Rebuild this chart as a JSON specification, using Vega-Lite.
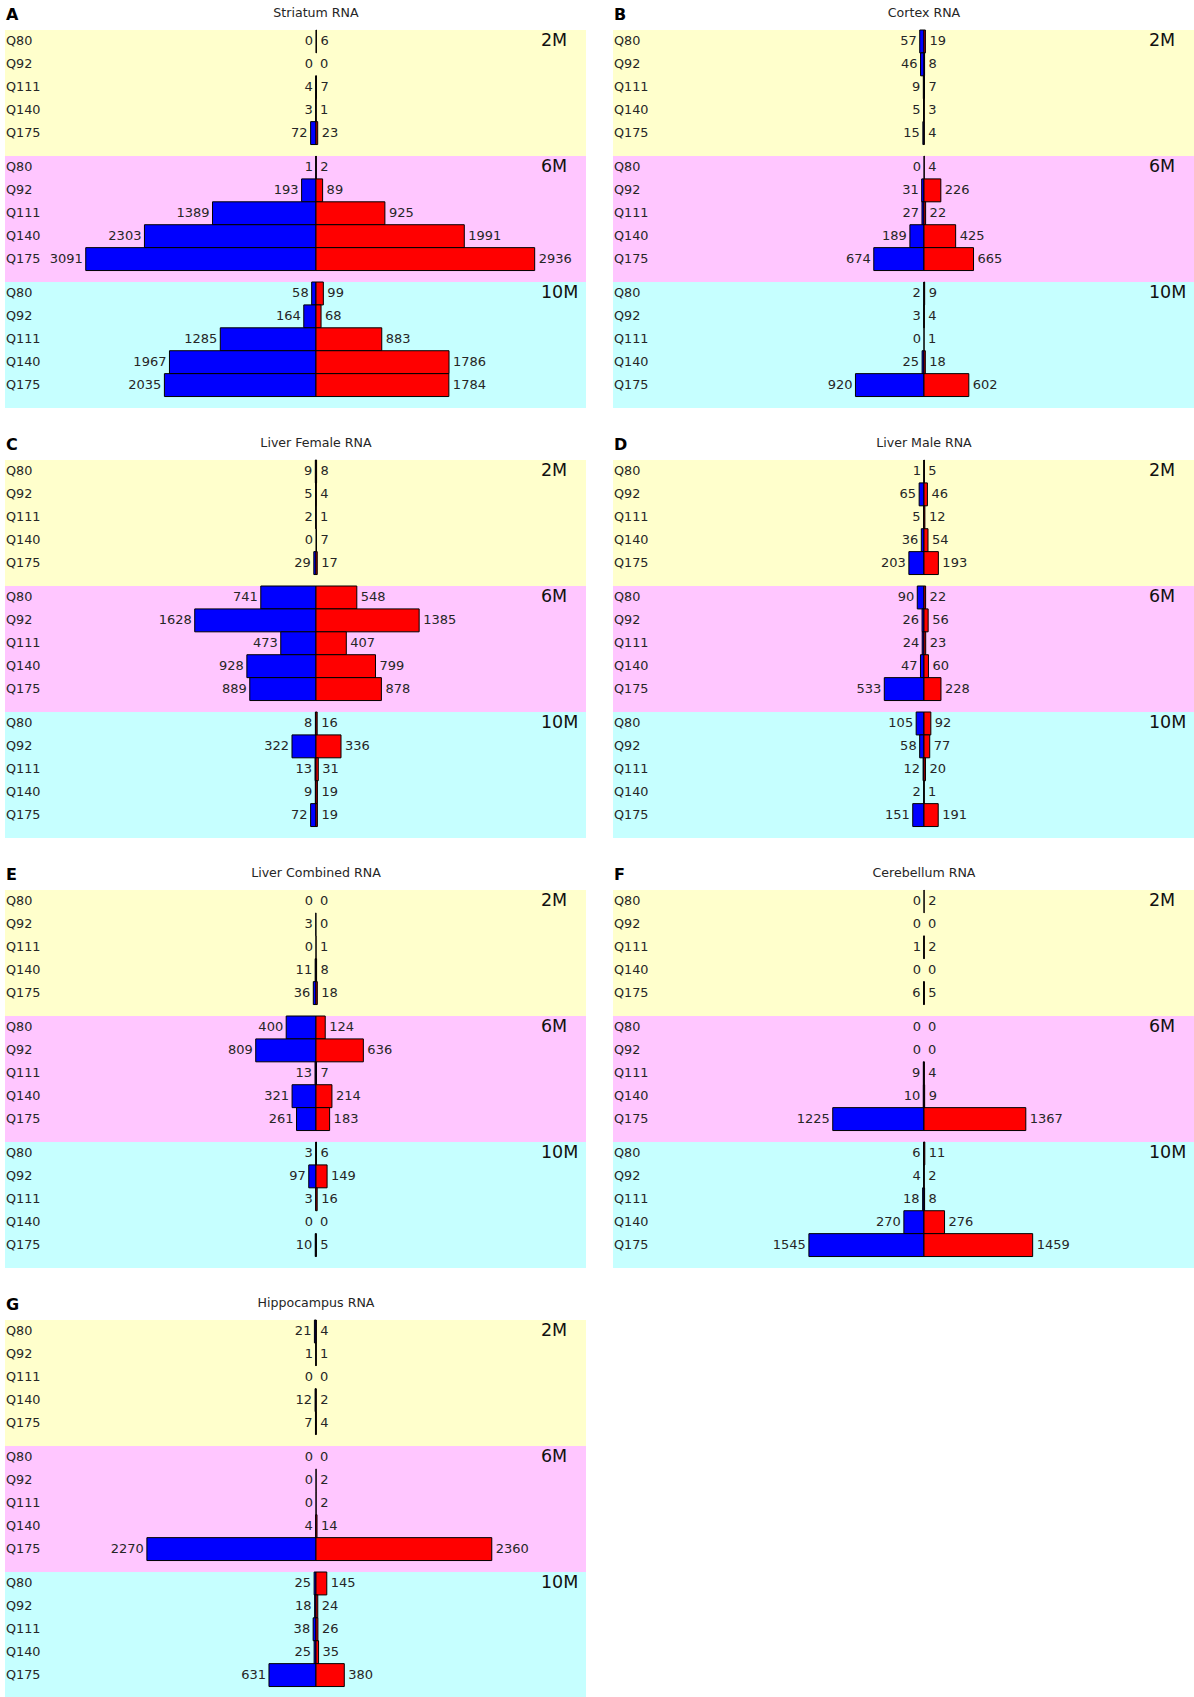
{
  "$schema": "https://vega.github.io/schema/vega-lite/v6.json",
  "padding": {"top": 6, "left": 5, "right": 0, "bottom": 0},
  "bounds": "flush",
  "spacing": {"row": 52, "column": 27},
  "columns": 2,
  "config": {"view": {"stroke": null}, "font": "DejaVu Sans", "text": {"font": "DejaVu Sans", "color": "#262626"}},
  "datasets": {"rows": [
    {"panel":"A","title":"Striatum RNA","age":"2M","q":"Q80","down":0,"up":6},
    {"panel":"A","title":"Striatum RNA","age":"2M","q":"Q92","down":0,"up":0},
    {"panel":"A","title":"Striatum RNA","age":"2M","q":"Q111","down":4,"up":7},
    {"panel":"A","title":"Striatum RNA","age":"2M","q":"Q140","down":3,"up":1},
    {"panel":"A","title":"Striatum RNA","age":"2M","q":"Q175","down":72,"up":23},
    {"panel":"A","title":"Striatum RNA","age":"6M","q":"Q80","down":1,"up":2},
    {"panel":"A","title":"Striatum RNA","age":"6M","q":"Q92","down":193,"up":89},
    {"panel":"A","title":"Striatum RNA","age":"6M","q":"Q111","down":1389,"up":925},
    {"panel":"A","title":"Striatum RNA","age":"6M","q":"Q140","down":2303,"up":1991},
    {"panel":"A","title":"Striatum RNA","age":"6M","q":"Q175","down":3091,"up":2936},
    {"panel":"A","title":"Striatum RNA","age":"10M","q":"Q80","down":58,"up":99},
    {"panel":"A","title":"Striatum RNA","age":"10M","q":"Q92","down":164,"up":68},
    {"panel":"A","title":"Striatum RNA","age":"10M","q":"Q111","down":1285,"up":883},
    {"panel":"A","title":"Striatum RNA","age":"10M","q":"Q140","down":1967,"up":1786},
    {"panel":"A","title":"Striatum RNA","age":"10M","q":"Q175","down":2035,"up":1784},
    {"panel":"B","title":"Cortex RNA","age":"2M","q":"Q80","down":57,"up":19},
    {"panel":"B","title":"Cortex RNA","age":"2M","q":"Q92","down":46,"up":8},
    {"panel":"B","title":"Cortex RNA","age":"2M","q":"Q111","down":9,"up":7},
    {"panel":"B","title":"Cortex RNA","age":"2M","q":"Q140","down":5,"up":3},
    {"panel":"B","title":"Cortex RNA","age":"2M","q":"Q175","down":15,"up":4},
    {"panel":"B","title":"Cortex RNA","age":"6M","q":"Q80","down":0,"up":4},
    {"panel":"B","title":"Cortex RNA","age":"6M","q":"Q92","down":31,"up":226},
    {"panel":"B","title":"Cortex RNA","age":"6M","q":"Q111","down":27,"up":22},
    {"panel":"B","title":"Cortex RNA","age":"6M","q":"Q140","down":189,"up":425},
    {"panel":"B","title":"Cortex RNA","age":"6M","q":"Q175","down":674,"up":665},
    {"panel":"B","title":"Cortex RNA","age":"10M","q":"Q80","down":2,"up":9},
    {"panel":"B","title":"Cortex RNA","age":"10M","q":"Q92","down":3,"up":4},
    {"panel":"B","title":"Cortex RNA","age":"10M","q":"Q111","down":0,"up":1},
    {"panel":"B","title":"Cortex RNA","age":"10M","q":"Q140","down":25,"up":18},
    {"panel":"B","title":"Cortex RNA","age":"10M","q":"Q175","down":920,"up":602},
    {"panel":"C","title":"Liver Female RNA","age":"2M","q":"Q80","down":9,"up":8},
    {"panel":"C","title":"Liver Female RNA","age":"2M","q":"Q92","down":5,"up":4},
    {"panel":"C","title":"Liver Female RNA","age":"2M","q":"Q111","down":2,"up":1},
    {"panel":"C","title":"Liver Female RNA","age":"2M","q":"Q140","down":0,"up":7},
    {"panel":"C","title":"Liver Female RNA","age":"2M","q":"Q175","down":29,"up":17},
    {"panel":"C","title":"Liver Female RNA","age":"6M","q":"Q80","down":741,"up":548},
    {"panel":"C","title":"Liver Female RNA","age":"6M","q":"Q92","down":1628,"up":1385},
    {"panel":"C","title":"Liver Female RNA","age":"6M","q":"Q111","down":473,"up":407},
    {"panel":"C","title":"Liver Female RNA","age":"6M","q":"Q140","down":928,"up":799},
    {"panel":"C","title":"Liver Female RNA","age":"6M","q":"Q175","down":889,"up":878},
    {"panel":"C","title":"Liver Female RNA","age":"10M","q":"Q80","down":8,"up":16},
    {"panel":"C","title":"Liver Female RNA","age":"10M","q":"Q92","down":322,"up":336},
    {"panel":"C","title":"Liver Female RNA","age":"10M","q":"Q111","down":13,"up":31},
    {"panel":"C","title":"Liver Female RNA","age":"10M","q":"Q140","down":9,"up":19},
    {"panel":"C","title":"Liver Female RNA","age":"10M","q":"Q175","down":72,"up":19},
    {"panel":"D","title":"Liver Male RNA","age":"2M","q":"Q80","down":1,"up":5},
    {"panel":"D","title":"Liver Male RNA","age":"2M","q":"Q92","down":65,"up":46},
    {"panel":"D","title":"Liver Male RNA","age":"2M","q":"Q111","down":5,"up":12},
    {"panel":"D","title":"Liver Male RNA","age":"2M","q":"Q140","down":36,"up":54},
    {"panel":"D","title":"Liver Male RNA","age":"2M","q":"Q175","down":203,"up":193},
    {"panel":"D","title":"Liver Male RNA","age":"6M","q":"Q80","down":90,"up":22},
    {"panel":"D","title":"Liver Male RNA","age":"6M","q":"Q92","down":26,"up":56},
    {"panel":"D","title":"Liver Male RNA","age":"6M","q":"Q111","down":24,"up":23},
    {"panel":"D","title":"Liver Male RNA","age":"6M","q":"Q140","down":47,"up":60},
    {"panel":"D","title":"Liver Male RNA","age":"6M","q":"Q175","down":533,"up":228},
    {"panel":"D","title":"Liver Male RNA","age":"10M","q":"Q80","down":105,"up":92},
    {"panel":"D","title":"Liver Male RNA","age":"10M","q":"Q92","down":58,"up":77},
    {"panel":"D","title":"Liver Male RNA","age":"10M","q":"Q111","down":12,"up":20},
    {"panel":"D","title":"Liver Male RNA","age":"10M","q":"Q140","down":2,"up":1},
    {"panel":"D","title":"Liver Male RNA","age":"10M","q":"Q175","down":151,"up":191},
    {"panel":"E","title":"Liver Combined RNA","age":"2M","q":"Q80","down":0,"up":0},
    {"panel":"E","title":"Liver Combined RNA","age":"2M","q":"Q92","down":3,"up":0},
    {"panel":"E","title":"Liver Combined RNA","age":"2M","q":"Q111","down":0,"up":1},
    {"panel":"E","title":"Liver Combined RNA","age":"2M","q":"Q140","down":11,"up":8},
    {"panel":"E","title":"Liver Combined RNA","age":"2M","q":"Q175","down":36,"up":18},
    {"panel":"E","title":"Liver Combined RNA","age":"6M","q":"Q80","down":400,"up":124},
    {"panel":"E","title":"Liver Combined RNA","age":"6M","q":"Q92","down":809,"up":636},
    {"panel":"E","title":"Liver Combined RNA","age":"6M","q":"Q111","down":13,"up":7},
    {"panel":"E","title":"Liver Combined RNA","age":"6M","q":"Q140","down":321,"up":214},
    {"panel":"E","title":"Liver Combined RNA","age":"6M","q":"Q175","down":261,"up":183},
    {"panel":"E","title":"Liver Combined RNA","age":"10M","q":"Q80","down":3,"up":6},
    {"panel":"E","title":"Liver Combined RNA","age":"10M","q":"Q92","down":97,"up":149},
    {"panel":"E","title":"Liver Combined RNA","age":"10M","q":"Q111","down":3,"up":16},
    {"panel":"E","title":"Liver Combined RNA","age":"10M","q":"Q140","down":0,"up":0},
    {"panel":"E","title":"Liver Combined RNA","age":"10M","q":"Q175","down":10,"up":5},
    {"panel":"F","title":"Cerebellum RNA","age":"2M","q":"Q80","down":0,"up":2},
    {"panel":"F","title":"Cerebellum RNA","age":"2M","q":"Q92","down":0,"up":0},
    {"panel":"F","title":"Cerebellum RNA","age":"2M","q":"Q111","down":1,"up":2},
    {"panel":"F","title":"Cerebellum RNA","age":"2M","q":"Q140","down":0,"up":0},
    {"panel":"F","title":"Cerebellum RNA","age":"2M","q":"Q175","down":6,"up":5},
    {"panel":"F","title":"Cerebellum RNA","age":"6M","q":"Q80","down":0,"up":0},
    {"panel":"F","title":"Cerebellum RNA","age":"6M","q":"Q92","down":0,"up":0},
    {"panel":"F","title":"Cerebellum RNA","age":"6M","q":"Q111","down":9,"up":4},
    {"panel":"F","title":"Cerebellum RNA","age":"6M","q":"Q140","down":10,"up":9},
    {"panel":"F","title":"Cerebellum RNA","age":"6M","q":"Q175","down":1225,"up":1367},
    {"panel":"F","title":"Cerebellum RNA","age":"10M","q":"Q80","down":6,"up":11},
    {"panel":"F","title":"Cerebellum RNA","age":"10M","q":"Q92","down":4,"up":2},
    {"panel":"F","title":"Cerebellum RNA","age":"10M","q":"Q111","down":18,"up":8},
    {"panel":"F","title":"Cerebellum RNA","age":"10M","q":"Q140","down":270,"up":276},
    {"panel":"F","title":"Cerebellum RNA","age":"10M","q":"Q175","down":1545,"up":1459},
    {"panel":"G","title":"Hippocampus RNA","age":"2M","q":"Q80","down":21,"up":4},
    {"panel":"G","title":"Hippocampus RNA","age":"2M","q":"Q92","down":1,"up":1},
    {"panel":"G","title":"Hippocampus RNA","age":"2M","q":"Q111","down":0,"up":0},
    {"panel":"G","title":"Hippocampus RNA","age":"2M","q":"Q140","down":12,"up":2},
    {"panel":"G","title":"Hippocampus RNA","age":"2M","q":"Q175","down":7,"up":4},
    {"panel":"G","title":"Hippocampus RNA","age":"6M","q":"Q80","down":0,"up":0},
    {"panel":"G","title":"Hippocampus RNA","age":"6M","q":"Q92","down":0,"up":2},
    {"panel":"G","title":"Hippocampus RNA","age":"6M","q":"Q111","down":0,"up":2},
    {"panel":"G","title":"Hippocampus RNA","age":"6M","q":"Q140","down":4,"up":14},
    {"panel":"G","title":"Hippocampus RNA","age":"6M","q":"Q175","down":2270,"up":2360},
    {"panel":"G","title":"Hippocampus RNA","age":"10M","q":"Q80","down":25,"up":145},
    {"panel":"G","title":"Hippocampus RNA","age":"10M","q":"Q92","down":18,"up":24},
    {"panel":"G","title":"Hippocampus RNA","age":"10M","q":"Q111","down":38,"up":26},
    {"panel":"G","title":"Hippocampus RNA","age":"10M","q":"Q140","down":25,"up":35},
    {"panel":"G","title":"Hippocampus RNA","age":"10M","q":"Q175","down":631,"up":380}
  ]},
  "data": {"name": "rows"},
  "concat": [
    {"transform": [{"filter": {"field": "panel", "equal": "A"}}], "width": 581, "height": 378,
     "encoding": {"y": {"field": "age", "type": "nominal", "axis": null, "scale": {"domain": ["2M", "6M", "10M"], "paddingInner": 0, "paddingOuter": 0}}},
     "resolve": {"scale": {"x": "independent"}},
     "layer": [
      {"transform": [{"filter": {"field": "q", "equal": "Q80"}}], "mark": {"type": "rect"},
       "encoding": {"x": {"datum": -4175, "type": "quantitative", "axis": null, "scale": {"domain": [-4175, 3625], "nice": false, "zero": false}}, "x2": {"datum": 3625},
        "color": {"field": "age", "type": "nominal", "legend": null, "scale": {"domain": ["2M", "6M", "10M"], "range": ["#ffffcc", "#ffc6ff", "#c6ffff"]}}}},
      {"transform": [{"filter": {"field": "down", "gt": 0}}], "mark": {"type": "bar", "fill": "#0000ff", "stroke": "#000000", "strokeWidth": 1},
       "encoding": {"x": {"field": "down", "type": "quantitative", "axis": null, "scale": {"domain": [-3625, 4175], "reverse": true, "nice": false, "zero": false}}, "x2": {"datum": 0},
        "yOffset": {"field": "q", "type": "nominal", "scale": {"domain": ["Q80", "Q92", "Q111", "Q140", "Q175"], "paddingInner": 0, "paddingOuter": 0.25, "align": 0}}}},
      {"transform": [{"filter": {"field": "up", "gt": 0}}], "mark": {"type": "bar", "fill": "#ff0000", "stroke": "#000000", "strokeWidth": 1},
       "encoding": {"x": {"field": "up", "type": "quantitative", "axis": null, "scale": {"domain": [-4175, 3625], "nice": false, "zero": false}}, "x2": {"datum": 0},
        "yOffset": {"field": "q", "type": "nominal", "scale": {"domain": ["Q80", "Q92", "Q111", "Q140", "Q175"], "paddingInner": 0, "paddingOuter": 0.25, "align": 0}}}},
      {"mark": {"type": "text", "align": "right", "baseline": "middle", "dx": -3, "fontSize": 13},
       "encoding": {"x": {"field": "down", "type": "quantitative", "axis": null, "scale": {"domain": [-3625, 4175], "reverse": true, "nice": false, "zero": false}},
        "yOffset": {"field": "q", "type": "nominal", "scale": {"domain": ["Q80", "Q92", "Q111", "Q140", "Q175"], "paddingInner": 0, "paddingOuter": 0.25, "align": 0}},
        "text": {"field": "down", "type": "quantitative", "format": "d"}}},
      {"mark": {"type": "text", "align": "left", "baseline": "middle", "dx": 4, "fontSize": 13},
       "encoding": {"x": {"field": "up", "type": "quantitative", "axis": null, "scale": {"domain": [-4175, 3625], "nice": false, "zero": false}},
        "yOffset": {"field": "q", "type": "nominal", "scale": {"domain": ["Q80", "Q92", "Q111", "Q140", "Q175"], "paddingInner": 0, "paddingOuter": 0.25, "align": 0}},
        "text": {"field": "up", "type": "quantitative", "format": "d"}}},
      {"mark": {"type": "text", "align": "left", "baseline": "middle", "dx": 1, "fontSize": 12.8},
       "encoding": {"x": {"datum": -4175, "type": "quantitative", "axis": null, "scale": {"domain": [-4175, 3625], "nice": false, "zero": false}},
        "yOffset": {"field": "q", "type": "nominal", "scale": {"domain": ["Q80", "Q92", "Q111", "Q140", "Q175"], "paddingInner": 0, "paddingOuter": 0.25, "align": 0}},
        "text": {"field": "q", "type": "nominal"}}},
      {"transform": [{"filter": {"field": "q", "equal": "Q80"}}], "mark": {"type": "text", "align": "left", "baseline": "middle", "fontSize": 17.5, "color": "#111111"},
       "encoding": {"x": {"datum": 3020, "type": "quantitative", "axis": null, "scale": {"domain": [-4175, 3625], "nice": false, "zero": false}},
        "yOffset": {"field": "q", "type": "nominal", "scale": {"domain": ["Q80", "Q92", "Q111", "Q140", "Q175"], "paddingInner": 0, "paddingOuter": 0.25, "align": 0}},
        "text": {"field": "age", "type": "nominal"}}},
      {"transform": [{"filter": {"field": "q", "equal": "Q80"}}, {"filter": {"field": "age", "equal": "2M"}}], "mark": {"type": "text", "align": "center", "baseline": "alphabetic", "dy": -24, "fontSize": 12.6},
       "encoding": {"x": {"datum": 0, "type": "quantitative", "axis": null, "scale": {"domain": [-4175, 3625], "nice": false, "zero": false}},
        "yOffset": {"field": "q", "type": "nominal", "scale": {"domain": ["Q80", "Q92", "Q111", "Q140", "Q175"], "paddingInner": 0, "paddingOuter": 0.25, "align": 0}},
        "text": {"field": "title", "type": "nominal"}}},
      {"transform": [{"filter": {"field": "q", "equal": "Q80"}}, {"filter": {"field": "age", "equal": "2M"}}], "mark": {"type": "text", "align": "left", "baseline": "alphabetic", "dy": -21.5, "dx": 1, "fontSize": 16, "fontWeight": "bold", "color": "#000000"},
       "encoding": {"x": {"datum": -4175, "type": "quantitative", "axis": null, "scale": {"domain": [-4175, 3625], "nice": false, "zero": false}},
        "yOffset": {"field": "q", "type": "nominal", "scale": {"domain": ["Q80", "Q92", "Q111", "Q140", "Q175"], "paddingInner": 0, "paddingOuter": 0.25, "align": 0}},
        "text": {"field": "panel", "type": "nominal"}}}
     ]},
    {"transform": [{"filter": {"field": "panel", "equal": "B"}}], "width": 581, "height": 378,
     "encoding": {"y": {"field": "age", "type": "nominal", "axis": null, "scale": {"domain": ["2M", "6M", "10M"], "paddingInner": 0, "paddingOuter": 0}}},
     "resolve": {"scale": {"x": "independent"}},
     "layer": [
      {"transform": [{"filter": {"field": "q", "equal": "Q80"}}], "mark": {"type": "rect"},
       "encoding": {"x": {"datum": -4175, "type": "quantitative", "axis": null, "scale": {"domain": [-4175, 3625], "nice": false, "zero": false}}, "x2": {"datum": 3625},
        "color": {"field": "age", "type": "nominal", "legend": null, "scale": {"domain": ["2M", "6M", "10M"], "range": ["#ffffcc", "#ffc6ff", "#c6ffff"]}}}},
      {"transform": [{"filter": {"field": "down", "gt": 0}}], "mark": {"type": "bar", "fill": "#0000ff", "stroke": "#000000", "strokeWidth": 1},
       "encoding": {"x": {"field": "down", "type": "quantitative", "axis": null, "scale": {"domain": [-3625, 4175], "reverse": true, "nice": false, "zero": false}}, "x2": {"datum": 0},
        "yOffset": {"field": "q", "type": "nominal", "scale": {"domain": ["Q80", "Q92", "Q111", "Q140", "Q175"], "paddingInner": 0, "paddingOuter": 0.25, "align": 0}}}},
      {"transform": [{"filter": {"field": "up", "gt": 0}}], "mark": {"type": "bar", "fill": "#ff0000", "stroke": "#000000", "strokeWidth": 1},
       "encoding": {"x": {"field": "up", "type": "quantitative", "axis": null, "scale": {"domain": [-4175, 3625], "nice": false, "zero": false}}, "x2": {"datum": 0},
        "yOffset": {"field": "q", "type": "nominal", "scale": {"domain": ["Q80", "Q92", "Q111", "Q140", "Q175"], "paddingInner": 0, "paddingOuter": 0.25, "align": 0}}}},
      {"mark": {"type": "text", "align": "right", "baseline": "middle", "dx": -3, "fontSize": 13},
       "encoding": {"x": {"field": "down", "type": "quantitative", "axis": null, "scale": {"domain": [-3625, 4175], "reverse": true, "nice": false, "zero": false}},
        "yOffset": {"field": "q", "type": "nominal", "scale": {"domain": ["Q80", "Q92", "Q111", "Q140", "Q175"], "paddingInner": 0, "paddingOuter": 0.25, "align": 0}},
        "text": {"field": "down", "type": "quantitative", "format": "d"}}},
      {"mark": {"type": "text", "align": "left", "baseline": "middle", "dx": 4, "fontSize": 13},
       "encoding": {"x": {"field": "up", "type": "quantitative", "axis": null, "scale": {"domain": [-4175, 3625], "nice": false, "zero": false}},
        "yOffset": {"field": "q", "type": "nominal", "scale": {"domain": ["Q80", "Q92", "Q111", "Q140", "Q175"], "paddingInner": 0, "paddingOuter": 0.25, "align": 0}},
        "text": {"field": "up", "type": "quantitative", "format": "d"}}},
      {"mark": {"type": "text", "align": "left", "baseline": "middle", "dx": 1, "fontSize": 12.8},
       "encoding": {"x": {"datum": -4175, "type": "quantitative", "axis": null, "scale": {"domain": [-4175, 3625], "nice": false, "zero": false}},
        "yOffset": {"field": "q", "type": "nominal", "scale": {"domain": ["Q80", "Q92", "Q111", "Q140", "Q175"], "paddingInner": 0, "paddingOuter": 0.25, "align": 0}},
        "text": {"field": "q", "type": "nominal"}}},
      {"transform": [{"filter": {"field": "q", "equal": "Q80"}}], "mark": {"type": "text", "align": "left", "baseline": "middle", "fontSize": 17.5, "color": "#111111"},
       "encoding": {"x": {"datum": 3020, "type": "quantitative", "axis": null, "scale": {"domain": [-4175, 3625], "nice": false, "zero": false}},
        "yOffset": {"field": "q", "type": "nominal", "scale": {"domain": ["Q80", "Q92", "Q111", "Q140", "Q175"], "paddingInner": 0, "paddingOuter": 0.25, "align": 0}},
        "text": {"field": "age", "type": "nominal"}}},
      {"transform": [{"filter": {"field": "q", "equal": "Q80"}}, {"filter": {"field": "age", "equal": "2M"}}], "mark": {"type": "text", "align": "center", "baseline": "alphabetic", "dy": -24, "fontSize": 12.6},
       "encoding": {"x": {"datum": 0, "type": "quantitative", "axis": null, "scale": {"domain": [-4175, 3625], "nice": false, "zero": false}},
        "yOffset": {"field": "q", "type": "nominal", "scale": {"domain": ["Q80", "Q92", "Q111", "Q140", "Q175"], "paddingInner": 0, "paddingOuter": 0.25, "align": 0}},
        "text": {"field": "title", "type": "nominal"}}},
      {"transform": [{"filter": {"field": "q", "equal": "Q80"}}, {"filter": {"field": "age", "equal": "2M"}}], "mark": {"type": "text", "align": "left", "baseline": "alphabetic", "dy": -21.5, "dx": 1, "fontSize": 16, "fontWeight": "bold", "color": "#000000"},
       "encoding": {"x": {"datum": -4175, "type": "quantitative", "axis": null, "scale": {"domain": [-4175, 3625], "nice": false, "zero": false}},
        "yOffset": {"field": "q", "type": "nominal", "scale": {"domain": ["Q80", "Q92", "Q111", "Q140", "Q175"], "paddingInner": 0, "paddingOuter": 0.25, "align": 0}},
        "text": {"field": "panel", "type": "nominal"}}}
     ]},
    {"transform": [{"filter": {"field": "panel", "equal": "C"}}], "width": 581, "height": 378,
     "encoding": {"y": {"field": "age", "type": "nominal", "axis": null, "scale": {"domain": ["2M", "6M", "10M"], "paddingInner": 0, "paddingOuter": 0}}},
     "resolve": {"scale": {"x": "independent"}},
     "layer": [
      {"transform": [{"filter": {"field": "q", "equal": "Q80"}}], "mark": {"type": "rect"},
       "encoding": {"x": {"datum": -4175, "type": "quantitative", "axis": null, "scale": {"domain": [-4175, 3625], "nice": false, "zero": false}}, "x2": {"datum": 3625},
        "color": {"field": "age", "type": "nominal", "legend": null, "scale": {"domain": ["2M", "6M", "10M"], "range": ["#ffffcc", "#ffc6ff", "#c6ffff"]}}}},
      {"transform": [{"filter": {"field": "down", "gt": 0}}], "mark": {"type": "bar", "fill": "#0000ff", "stroke": "#000000", "strokeWidth": 1},
       "encoding": {"x": {"field": "down", "type": "quantitative", "axis": null, "scale": {"domain": [-3625, 4175], "reverse": true, "nice": false, "zero": false}}, "x2": {"datum": 0},
        "yOffset": {"field": "q", "type": "nominal", "scale": {"domain": ["Q80", "Q92", "Q111", "Q140", "Q175"], "paddingInner": 0, "paddingOuter": 0.25, "align": 0}}}},
      {"transform": [{"filter": {"field": "up", "gt": 0}}], "mark": {"type": "bar", "fill": "#ff0000", "stroke": "#000000", "strokeWidth": 1},
       "encoding": {"x": {"field": "up", "type": "quantitative", "axis": null, "scale": {"domain": [-4175, 3625], "nice": false, "zero": false}}, "x2": {"datum": 0},
        "yOffset": {"field": "q", "type": "nominal", "scale": {"domain": ["Q80", "Q92", "Q111", "Q140", "Q175"], "paddingInner": 0, "paddingOuter": 0.25, "align": 0}}}},
      {"mark": {"type": "text", "align": "right", "baseline": "middle", "dx": -3, "fontSize": 13},
       "encoding": {"x": {"field": "down", "type": "quantitative", "axis": null, "scale": {"domain": [-3625, 4175], "reverse": true, "nice": false, "zero": false}},
        "yOffset": {"field": "q", "type": "nominal", "scale": {"domain": ["Q80", "Q92", "Q111", "Q140", "Q175"], "paddingInner": 0, "paddingOuter": 0.25, "align": 0}},
        "text": {"field": "down", "type": "quantitative", "format": "d"}}},
      {"mark": {"type": "text", "align": "left", "baseline": "middle", "dx": 4, "fontSize": 13},
       "encoding": {"x": {"field": "up", "type": "quantitative", "axis": null, "scale": {"domain": [-4175, 3625], "nice": false, "zero": false}},
        "yOffset": {"field": "q", "type": "nominal", "scale": {"domain": ["Q80", "Q92", "Q111", "Q140", "Q175"], "paddingInner": 0, "paddingOuter": 0.25, "align": 0}},
        "text": {"field": "up", "type": "quantitative", "format": "d"}}},
      {"mark": {"type": "text", "align": "left", "baseline": "middle", "dx": 1, "fontSize": 12.8},
       "encoding": {"x": {"datum": -4175, "type": "quantitative", "axis": null, "scale": {"domain": [-4175, 3625], "nice": false, "zero": false}},
        "yOffset": {"field": "q", "type": "nominal", "scale": {"domain": ["Q80", "Q92", "Q111", "Q140", "Q175"], "paddingInner": 0, "paddingOuter": 0.25, "align": 0}},
        "text": {"field": "q", "type": "nominal"}}},
      {"transform": [{"filter": {"field": "q", "equal": "Q80"}}], "mark": {"type": "text", "align": "left", "baseline": "middle", "fontSize": 17.5, "color": "#111111"},
       "encoding": {"x": {"datum": 3020, "type": "quantitative", "axis": null, "scale": {"domain": [-4175, 3625], "nice": false, "zero": false}},
        "yOffset": {"field": "q", "type": "nominal", "scale": {"domain": ["Q80", "Q92", "Q111", "Q140", "Q175"], "paddingInner": 0, "paddingOuter": 0.25, "align": 0}},
        "text": {"field": "age", "type": "nominal"}}},
      {"transform": [{"filter": {"field": "q", "equal": "Q80"}}, {"filter": {"field": "age", "equal": "2M"}}], "mark": {"type": "text", "align": "center", "baseline": "alphabetic", "dy": -24, "fontSize": 12.6},
       "encoding": {"x": {"datum": 0, "type": "quantitative", "axis": null, "scale": {"domain": [-4175, 3625], "nice": false, "zero": false}},
        "yOffset": {"field": "q", "type": "nominal", "scale": {"domain": ["Q80", "Q92", "Q111", "Q140", "Q175"], "paddingInner": 0, "paddingOuter": 0.25, "align": 0}},
        "text": {"field": "title", "type": "nominal"}}},
      {"transform": [{"filter": {"field": "q", "equal": "Q80"}}, {"filter": {"field": "age", "equal": "2M"}}], "mark": {"type": "text", "align": "left", "baseline": "alphabetic", "dy": -21.5, "dx": 1, "fontSize": 16, "fontWeight": "bold", "color": "#000000"},
       "encoding": {"x": {"datum": -4175, "type": "quantitative", "axis": null, "scale": {"domain": [-4175, 3625], "nice": false, "zero": false}},
        "yOffset": {"field": "q", "type": "nominal", "scale": {"domain": ["Q80", "Q92", "Q111", "Q140", "Q175"], "paddingInner": 0, "paddingOuter": 0.25, "align": 0}},
        "text": {"field": "panel", "type": "nominal"}}}
     ]},
    {"transform": [{"filter": {"field": "panel", "equal": "D"}}], "width": 581, "height": 378,
     "encoding": {"y": {"field": "age", "type": "nominal", "axis": null, "scale": {"domain": ["2M", "6M", "10M"], "paddingInner": 0, "paddingOuter": 0}}},
     "resolve": {"scale": {"x": "independent"}},
     "layer": [
      {"transform": [{"filter": {"field": "q", "equal": "Q80"}}], "mark": {"type": "rect"},
       "encoding": {"x": {"datum": -4175, "type": "quantitative", "axis": null, "scale": {"domain": [-4175, 3625], "nice": false, "zero": false}}, "x2": {"datum": 3625},
        "color": {"field": "age", "type": "nominal", "legend": null, "scale": {"domain": ["2M", "6M", "10M"], "range": ["#ffffcc", "#ffc6ff", "#c6ffff"]}}}},
      {"transform": [{"filter": {"field": "down", "gt": 0}}], "mark": {"type": "bar", "fill": "#0000ff", "stroke": "#000000", "strokeWidth": 1},
       "encoding": {"x": {"field": "down", "type": "quantitative", "axis": null, "scale": {"domain": [-3625, 4175], "reverse": true, "nice": false, "zero": false}}, "x2": {"datum": 0},
        "yOffset": {"field": "q", "type": "nominal", "scale": {"domain": ["Q80", "Q92", "Q111", "Q140", "Q175"], "paddingInner": 0, "paddingOuter": 0.25, "align": 0}}}},
      {"transform": [{"filter": {"field": "up", "gt": 0}}], "mark": {"type": "bar", "fill": "#ff0000", "stroke": "#000000", "strokeWidth": 1},
       "encoding": {"x": {"field": "up", "type": "quantitative", "axis": null, "scale": {"domain": [-4175, 3625], "nice": false, "zero": false}}, "x2": {"datum": 0},
        "yOffset": {"field": "q", "type": "nominal", "scale": {"domain": ["Q80", "Q92", "Q111", "Q140", "Q175"], "paddingInner": 0, "paddingOuter": 0.25, "align": 0}}}},
      {"mark": {"type": "text", "align": "right", "baseline": "middle", "dx": -3, "fontSize": 13},
       "encoding": {"x": {"field": "down", "type": "quantitative", "axis": null, "scale": {"domain": [-3625, 4175], "reverse": true, "nice": false, "zero": false}},
        "yOffset": {"field": "q", "type": "nominal", "scale": {"domain": ["Q80", "Q92", "Q111", "Q140", "Q175"], "paddingInner": 0, "paddingOuter": 0.25, "align": 0}},
        "text": {"field": "down", "type": "quantitative", "format": "d"}}},
      {"mark": {"type": "text", "align": "left", "baseline": "middle", "dx": 4, "fontSize": 13},
       "encoding": {"x": {"field": "up", "type": "quantitative", "axis": null, "scale": {"domain": [-4175, 3625], "nice": false, "zero": false}},
        "yOffset": {"field": "q", "type": "nominal", "scale": {"domain": ["Q80", "Q92", "Q111", "Q140", "Q175"], "paddingInner": 0, "paddingOuter": 0.25, "align": 0}},
        "text": {"field": "up", "type": "quantitative", "format": "d"}}},
      {"mark": {"type": "text", "align": "left", "baseline": "middle", "dx": 1, "fontSize": 12.8},
       "encoding": {"x": {"datum": -4175, "type": "quantitative", "axis": null, "scale": {"domain": [-4175, 3625], "nice": false, "zero": false}},
        "yOffset": {"field": "q", "type": "nominal", "scale": {"domain": ["Q80", "Q92", "Q111", "Q140", "Q175"], "paddingInner": 0, "paddingOuter": 0.25, "align": 0}},
        "text": {"field": "q", "type": "nominal"}}},
      {"transform": [{"filter": {"field": "q", "equal": "Q80"}}], "mark": {"type": "text", "align": "left", "baseline": "middle", "fontSize": 17.5, "color": "#111111"},
       "encoding": {"x": {"datum": 3020, "type": "quantitative", "axis": null, "scale": {"domain": [-4175, 3625], "nice": false, "zero": false}},
        "yOffset": {"field": "q", "type": "nominal", "scale": {"domain": ["Q80", "Q92", "Q111", "Q140", "Q175"], "paddingInner": 0, "paddingOuter": 0.25, "align": 0}},
        "text": {"field": "age", "type": "nominal"}}},
      {"transform": [{"filter": {"field": "q", "equal": "Q80"}}, {"filter": {"field": "age", "equal": "2M"}}], "mark": {"type": "text", "align": "center", "baseline": "alphabetic", "dy": -24, "fontSize": 12.6},
       "encoding": {"x": {"datum": 0, "type": "quantitative", "axis": null, "scale": {"domain": [-4175, 3625], "nice": false, "zero": false}},
        "yOffset": {"field": "q", "type": "nominal", "scale": {"domain": ["Q80", "Q92", "Q111", "Q140", "Q175"], "paddingInner": 0, "paddingOuter": 0.25, "align": 0}},
        "text": {"field": "title", "type": "nominal"}}},
      {"transform": [{"filter": {"field": "q", "equal": "Q80"}}, {"filter": {"field": "age", "equal": "2M"}}], "mark": {"type": "text", "align": "left", "baseline": "alphabetic", "dy": -21.5, "dx": 1, "fontSize": 16, "fontWeight": "bold", "color": "#000000"},
       "encoding": {"x": {"datum": -4175, "type": "quantitative", "axis": null, "scale": {"domain": [-4175, 3625], "nice": false, "zero": false}},
        "yOffset": {"field": "q", "type": "nominal", "scale": {"domain": ["Q80", "Q92", "Q111", "Q140", "Q175"], "paddingInner": 0, "paddingOuter": 0.25, "align": 0}},
        "text": {"field": "panel", "type": "nominal"}}}
     ]},
    {"transform": [{"filter": {"field": "panel", "equal": "E"}}], "width": 581, "height": 378,
     "encoding": {"y": {"field": "age", "type": "nominal", "axis": null, "scale": {"domain": ["2M", "6M", "10M"], "paddingInner": 0, "paddingOuter": 0}}},
     "resolve": {"scale": {"x": "independent"}},
     "layer": [
      {"transform": [{"filter": {"field": "q", "equal": "Q80"}}], "mark": {"type": "rect"},
       "encoding": {"x": {"datum": -4175, "type": "quantitative", "axis": null, "scale": {"domain": [-4175, 3625], "nice": false, "zero": false}}, "x2": {"datum": 3625},
        "color": {"field": "age", "type": "nominal", "legend": null, "scale": {"domain": ["2M", "6M", "10M"], "range": ["#ffffcc", "#ffc6ff", "#c6ffff"]}}}},
      {"transform": [{"filter": {"field": "down", "gt": 0}}], "mark": {"type": "bar", "fill": "#0000ff", "stroke": "#000000", "strokeWidth": 1},
       "encoding": {"x": {"field": "down", "type": "quantitative", "axis": null, "scale": {"domain": [-3625, 4175], "reverse": true, "nice": false, "zero": false}}, "x2": {"datum": 0},
        "yOffset": {"field": "q", "type": "nominal", "scale": {"domain": ["Q80", "Q92", "Q111", "Q140", "Q175"], "paddingInner": 0, "paddingOuter": 0.25, "align": 0}}}},
      {"transform": [{"filter": {"field": "up", "gt": 0}}], "mark": {"type": "bar", "fill": "#ff0000", "stroke": "#000000", "strokeWidth": 1},
       "encoding": {"x": {"field": "up", "type": "quantitative", "axis": null, "scale": {"domain": [-4175, 3625], "nice": false, "zero": false}}, "x2": {"datum": 0},
        "yOffset": {"field": "q", "type": "nominal", "scale": {"domain": ["Q80", "Q92", "Q111", "Q140", "Q175"], "paddingInner": 0, "paddingOuter": 0.25, "align": 0}}}},
      {"mark": {"type": "text", "align": "right", "baseline": "middle", "dx": -3, "fontSize": 13},
       "encoding": {"x": {"field": "down", "type": "quantitative", "axis": null, "scale": {"domain": [-3625, 4175], "reverse": true, "nice": false, "zero": false}},
        "yOffset": {"field": "q", "type": "nominal", "scale": {"domain": ["Q80", "Q92", "Q111", "Q140", "Q175"], "paddingInner": 0, "paddingOuter": 0.25, "align": 0}},
        "text": {"field": "down", "type": "quantitative", "format": "d"}}},
      {"mark": {"type": "text", "align": "left", "baseline": "middle", "dx": 4, "fontSize": 13},
       "encoding": {"x": {"field": "up", "type": "quantitative", "axis": null, "scale": {"domain": [-4175, 3625], "nice": false, "zero": false}},
        "yOffset": {"field": "q", "type": "nominal", "scale": {"domain": ["Q80", "Q92", "Q111", "Q140", "Q175"], "paddingInner": 0, "paddingOuter": 0.25, "align": 0}},
        "text": {"field": "up", "type": "quantitative", "format": "d"}}},
      {"mark": {"type": "text", "align": "left", "baseline": "middle", "dx": 1, "fontSize": 12.8},
       "encoding": {"x": {"datum": -4175, "type": "quantitative", "axis": null, "scale": {"domain": [-4175, 3625], "nice": false, "zero": false}},
        "yOffset": {"field": "q", "type": "nominal", "scale": {"domain": ["Q80", "Q92", "Q111", "Q140", "Q175"], "paddingInner": 0, "paddingOuter": 0.25, "align": 0}},
        "text": {"field": "q", "type": "nominal"}}},
      {"transform": [{"filter": {"field": "q", "equal": "Q80"}}], "mark": {"type": "text", "align": "left", "baseline": "middle", "fontSize": 17.5, "color": "#111111"},
       "encoding": {"x": {"datum": 3020, "type": "quantitative", "axis": null, "scale": {"domain": [-4175, 3625], "nice": false, "zero": false}},
        "yOffset": {"field": "q", "type": "nominal", "scale": {"domain": ["Q80", "Q92", "Q111", "Q140", "Q175"], "paddingInner": 0, "paddingOuter": 0.25, "align": 0}},
        "text": {"field": "age", "type": "nominal"}}},
      {"transform": [{"filter": {"field": "q", "equal": "Q80"}}, {"filter": {"field": "age", "equal": "2M"}}], "mark": {"type": "text", "align": "center", "baseline": "alphabetic", "dy": -24, "fontSize": 12.6},
       "encoding": {"x": {"datum": 0, "type": "quantitative", "axis": null, "scale": {"domain": [-4175, 3625], "nice": false, "zero": false}},
        "yOffset": {"field": "q", "type": "nominal", "scale": {"domain": ["Q80", "Q92", "Q111", "Q140", "Q175"], "paddingInner": 0, "paddingOuter": 0.25, "align": 0}},
        "text": {"field": "title", "type": "nominal"}}},
      {"transform": [{"filter": {"field": "q", "equal": "Q80"}}, {"filter": {"field": "age", "equal": "2M"}}], "mark": {"type": "text", "align": "left", "baseline": "alphabetic", "dy": -21.5, "dx": 1, "fontSize": 16, "fontWeight": "bold", "color": "#000000"},
       "encoding": {"x": {"datum": -4175, "type": "quantitative", "axis": null, "scale": {"domain": [-4175, 3625], "nice": false, "zero": false}},
        "yOffset": {"field": "q", "type": "nominal", "scale": {"domain": ["Q80", "Q92", "Q111", "Q140", "Q175"], "paddingInner": 0, "paddingOuter": 0.25, "align": 0}},
        "text": {"field": "panel", "type": "nominal"}}}
     ]},
    {"transform": [{"filter": {"field": "panel", "equal": "F"}}], "width": 581, "height": 378,
     "encoding": {"y": {"field": "age", "type": "nominal", "axis": null, "scale": {"domain": ["2M", "6M", "10M"], "paddingInner": 0, "paddingOuter": 0}}},
     "resolve": {"scale": {"x": "independent"}},
     "layer": [
      {"transform": [{"filter": {"field": "q", "equal": "Q80"}}], "mark": {"type": "rect"},
       "encoding": {"x": {"datum": -4175, "type": "quantitative", "axis": null, "scale": {"domain": [-4175, 3625], "nice": false, "zero": false}}, "x2": {"datum": 3625},
        "color": {"field": "age", "type": "nominal", "legend": null, "scale": {"domain": ["2M", "6M", "10M"], "range": ["#ffffcc", "#ffc6ff", "#c6ffff"]}}}},
      {"transform": [{"filter": {"field": "down", "gt": 0}}], "mark": {"type": "bar", "fill": "#0000ff", "stroke": "#000000", "strokeWidth": 1},
       "encoding": {"x": {"field": "down", "type": "quantitative", "axis": null, "scale": {"domain": [-3625, 4175], "reverse": true, "nice": false, "zero": false}}, "x2": {"datum": 0},
        "yOffset": {"field": "q", "type": "nominal", "scale": {"domain": ["Q80", "Q92", "Q111", "Q140", "Q175"], "paddingInner": 0, "paddingOuter": 0.25, "align": 0}}}},
      {"transform": [{"filter": {"field": "up", "gt": 0}}], "mark": {"type": "bar", "fill": "#ff0000", "stroke": "#000000", "strokeWidth": 1},
       "encoding": {"x": {"field": "up", "type": "quantitative", "axis": null, "scale": {"domain": [-4175, 3625], "nice": false, "zero": false}}, "x2": {"datum": 0},
        "yOffset": {"field": "q", "type": "nominal", "scale": {"domain": ["Q80", "Q92", "Q111", "Q140", "Q175"], "paddingInner": 0, "paddingOuter": 0.25, "align": 0}}}},
      {"mark": {"type": "text", "align": "right", "baseline": "middle", "dx": -3, "fontSize": 13},
       "encoding": {"x": {"field": "down", "type": "quantitative", "axis": null, "scale": {"domain": [-3625, 4175], "reverse": true, "nice": false, "zero": false}},
        "yOffset": {"field": "q", "type": "nominal", "scale": {"domain": ["Q80", "Q92", "Q111", "Q140", "Q175"], "paddingInner": 0, "paddingOuter": 0.25, "align": 0}},
        "text": {"field": "down", "type": "quantitative", "format": "d"}}},
      {"mark": {"type": "text", "align": "left", "baseline": "middle", "dx": 4, "fontSize": 13},
       "encoding": {"x": {"field": "up", "type": "quantitative", "axis": null, "scale": {"domain": [-4175, 3625], "nice": false, "zero": false}},
        "yOffset": {"field": "q", "type": "nominal", "scale": {"domain": ["Q80", "Q92", "Q111", "Q140", "Q175"], "paddingInner": 0, "paddingOuter": 0.25, "align": 0}},
        "text": {"field": "up", "type": "quantitative", "format": "d"}}},
      {"mark": {"type": "text", "align": "left", "baseline": "middle", "dx": 1, "fontSize": 12.8},
       "encoding": {"x": {"datum": -4175, "type": "quantitative", "axis": null, "scale": {"domain": [-4175, 3625], "nice": false, "zero": false}},
        "yOffset": {"field": "q", "type": "nominal", "scale": {"domain": ["Q80", "Q92", "Q111", "Q140", "Q175"], "paddingInner": 0, "paddingOuter": 0.25, "align": 0}},
        "text": {"field": "q", "type": "nominal"}}},
      {"transform": [{"filter": {"field": "q", "equal": "Q80"}}], "mark": {"type": "text", "align": "left", "baseline": "middle", "fontSize": 17.5, "color": "#111111"},
       "encoding": {"x": {"datum": 3020, "type": "quantitative", "axis": null, "scale": {"domain": [-4175, 3625], "nice": false, "zero": false}},
        "yOffset": {"field": "q", "type": "nominal", "scale": {"domain": ["Q80", "Q92", "Q111", "Q140", "Q175"], "paddingInner": 0, "paddingOuter": 0.25, "align": 0}},
        "text": {"field": "age", "type": "nominal"}}},
      {"transform": [{"filter": {"field": "q", "equal": "Q80"}}, {"filter": {"field": "age", "equal": "2M"}}], "mark": {"type": "text", "align": "center", "baseline": "alphabetic", "dy": -24, "fontSize": 12.6},
       "encoding": {"x": {"datum": 0, "type": "quantitative", "axis": null, "scale": {"domain": [-4175, 3625], "nice": false, "zero": false}},
        "yOffset": {"field": "q", "type": "nominal", "scale": {"domain": ["Q80", "Q92", "Q111", "Q140", "Q175"], "paddingInner": 0, "paddingOuter": 0.25, "align": 0}},
        "text": {"field": "title", "type": "nominal"}}},
      {"transform": [{"filter": {"field": "q", "equal": "Q80"}}, {"filter": {"field": "age", "equal": "2M"}}], "mark": {"type": "text", "align": "left", "baseline": "alphabetic", "dy": -21.5, "dx": 1, "fontSize": 16, "fontWeight": "bold", "color": "#000000"},
       "encoding": {"x": {"datum": -4175, "type": "quantitative", "axis": null, "scale": {"domain": [-4175, 3625], "nice": false, "zero": false}},
        "yOffset": {"field": "q", "type": "nominal", "scale": {"domain": ["Q80", "Q92", "Q111", "Q140", "Q175"], "paddingInner": 0, "paddingOuter": 0.25, "align": 0}},
        "text": {"field": "panel", "type": "nominal"}}}
     ]},
    {"transform": [{"filter": {"field": "panel", "equal": "G"}}], "width": 581, "height": 378,
     "encoding": {"y": {"field": "age", "type": "nominal", "axis": null, "scale": {"domain": ["2M", "6M", "10M"], "paddingInner": 0, "paddingOuter": 0}}},
     "resolve": {"scale": {"x": "independent"}},
     "layer": [
      {"transform": [{"filter": {"field": "q", "equal": "Q80"}}], "mark": {"type": "rect"},
       "encoding": {"x": {"datum": -4175, "type": "quantitative", "axis": null, "scale": {"domain": [-4175, 3625], "nice": false, "zero": false}}, "x2": {"datum": 3625},
        "color": {"field": "age", "type": "nominal", "legend": null, "scale": {"domain": ["2M", "6M", "10M"], "range": ["#ffffcc", "#ffc6ff", "#c6ffff"]}}}},
      {"transform": [{"filter": {"field": "down", "gt": 0}}], "mark": {"type": "bar", "fill": "#0000ff", "stroke": "#000000", "strokeWidth": 1},
       "encoding": {"x": {"field": "down", "type": "quantitative", "axis": null, "scale": {"domain": [-3625, 4175], "reverse": true, "nice": false, "zero": false}}, "x2": {"datum": 0},
        "yOffset": {"field": "q", "type": "nominal", "scale": {"domain": ["Q80", "Q92", "Q111", "Q140", "Q175"], "paddingInner": 0, "paddingOuter": 0.25, "align": 0}}}},
      {"transform": [{"filter": {"field": "up", "gt": 0}}], "mark": {"type": "bar", "fill": "#ff0000", "stroke": "#000000", "strokeWidth": 1},
       "encoding": {"x": {"field": "up", "type": "quantitative", "axis": null, "scale": {"domain": [-4175, 3625], "nice": false, "zero": false}}, "x2": {"datum": 0},
        "yOffset": {"field": "q", "type": "nominal", "scale": {"domain": ["Q80", "Q92", "Q111", "Q140", "Q175"], "paddingInner": 0, "paddingOuter": 0.25, "align": 0}}}},
      {"mark": {"type": "text", "align": "right", "baseline": "middle", "dx": -3, "fontSize": 13},
       "encoding": {"x": {"field": "down", "type": "quantitative", "axis": null, "scale": {"domain": [-3625, 4175], "reverse": true, "nice": false, "zero": false}},
        "yOffset": {"field": "q", "type": "nominal", "scale": {"domain": ["Q80", "Q92", "Q111", "Q140", "Q175"], "paddingInner": 0, "paddingOuter": 0.25, "align": 0}},
        "text": {"field": "down", "type": "quantitative", "format": "d"}}},
      {"mark": {"type": "text", "align": "left", "baseline": "middle", "dx": 4, "fontSize": 13},
       "encoding": {"x": {"field": "up", "type": "quantitative", "axis": null, "scale": {"domain": [-4175, 3625], "nice": false, "zero": false}},
        "yOffset": {"field": "q", "type": "nominal", "scale": {"domain": ["Q80", "Q92", "Q111", "Q140", "Q175"], "paddingInner": 0, "paddingOuter": 0.25, "align": 0}},
        "text": {"field": "up", "type": "quantitative", "format": "d"}}},
      {"mark": {"type": "text", "align": "left", "baseline": "middle", "dx": 1, "fontSize": 12.8},
       "encoding": {"x": {"datum": -4175, "type": "quantitative", "axis": null, "scale": {"domain": [-4175, 3625], "nice": false, "zero": false}},
        "yOffset": {"field": "q", "type": "nominal", "scale": {"domain": ["Q80", "Q92", "Q111", "Q140", "Q175"], "paddingInner": 0, "paddingOuter": 0.25, "align": 0}},
        "text": {"field": "q", "type": "nominal"}}},
      {"transform": [{"filter": {"field": "q", "equal": "Q80"}}], "mark": {"type": "text", "align": "left", "baseline": "middle", "fontSize": 17.5, "color": "#111111"},
       "encoding": {"x": {"datum": 3020, "type": "quantitative", "axis": null, "scale": {"domain": [-4175, 3625], "nice": false, "zero": false}},
        "yOffset": {"field": "q", "type": "nominal", "scale": {"domain": ["Q80", "Q92", "Q111", "Q140", "Q175"], "paddingInner": 0, "paddingOuter": 0.25, "align": 0}},
        "text": {"field": "age", "type": "nominal"}}},
      {"transform": [{"filter": {"field": "q", "equal": "Q80"}}, {"filter": {"field": "age", "equal": "2M"}}], "mark": {"type": "text", "align": "center", "baseline": "alphabetic", "dy": -24, "fontSize": 12.6},
       "encoding": {"x": {"datum": 0, "type": "quantitative", "axis": null, "scale": {"domain": [-4175, 3625], "nice": false, "zero": false}},
        "yOffset": {"field": "q", "type": "nominal", "scale": {"domain": ["Q80", "Q92", "Q111", "Q140", "Q175"], "paddingInner": 0, "paddingOuter": 0.25, "align": 0}},
        "text": {"field": "title", "type": "nominal"}}},
      {"transform": [{"filter": {"field": "q", "equal": "Q80"}}, {"filter": {"field": "age", "equal": "2M"}}], "mark": {"type": "text", "align": "left", "baseline": "alphabetic", "dy": -21.5, "dx": 1, "fontSize": 16, "fontWeight": "bold", "color": "#000000"},
       "encoding": {"x": {"datum": -4175, "type": "quantitative", "axis": null, "scale": {"domain": [-4175, 3625], "nice": false, "zero": false}},
        "yOffset": {"field": "q", "type": "nominal", "scale": {"domain": ["Q80", "Q92", "Q111", "Q140", "Q175"], "paddingInner": 0, "paddingOuter": 0.25, "align": 0}},
        "text": {"field": "panel", "type": "nominal"}}}
     ]}
  ]
}
